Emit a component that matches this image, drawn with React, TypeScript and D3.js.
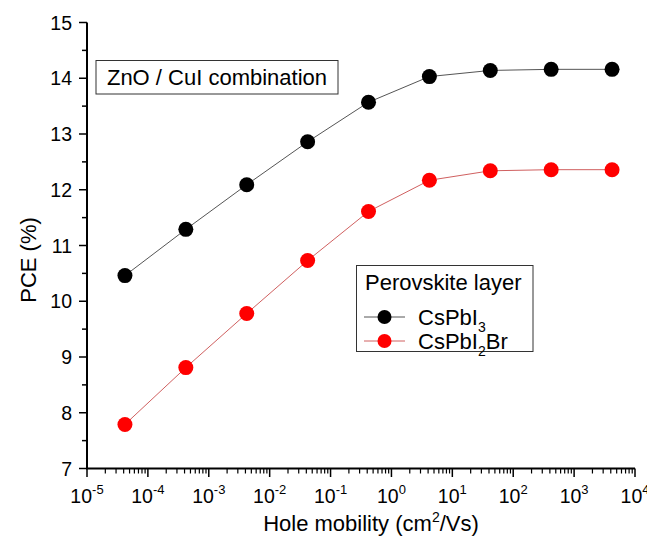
import React from "react";
import * as d3 from "d3";

const mobility = [4.2e-5, 4.2e-4, 4.2e-3, 4.2e-2, 4.2e-1, 4.2, 42, 420, 4200];
const pceCsPbI3 = [10.46, 11.29, 12.09, 12.86, 13.57, 14.03, 14.14, 14.16, 14.16];
const pceCsPbI2Br = [7.79, 8.81, 9.78, 10.73, 11.61, 12.17, 12.34, 12.36, 12.36];
const xExponents = [-5, -4, -3, -2, -1, 0, 1, 2, 3, 4];
const yTicks = [7, 8, 9, 10, 11, 12, 13, 14, 15];

const W = 647, H = 537;
const FONT = "'Liberation Sans', Arial, sans-serif";

export default function App() {
  const x = d3.scaleLog().domain([1e-5, 1e4]).range([87, 635]);
  const y = d3.scaleLinear().domain([7, 15]).range([468.5, 22.5]);
  const line = d3.line<number>().x((_, i) => x(mobility[i])).y((d) => y(d));

  const minorX: number[] = [];
  for (let e = -5; e < 4; e++) for (let k = 2; k <= 9; k++) minorX.push(k * Math.pow(10, e));
  const minorY = yTicks.slice(0, -1).map((v) => v + 0.5);

  const series = [
    { data: pceCsPbI3, fill: "#000000", stroke: "#555555", name: "CsPbI", sub: "3", tail: "" },
    { data: pceCsPbI2Br, fill: "#ff0000", stroke: "#d06060", name: "CsPbI", sub: "2", tail: "Br" },
  ];

  return (
    <svg width={W} height={H} style={{ position: "absolute", left: 0, top: 0 }} fontFamily={FONT}>
      <rect width={W} height={H} fill="#fff" />
      {/* axes */}
      <line x1={87} x2={87} y1={22.5} y2={469} stroke="#000" strokeWidth={2} />
      <line x1={86} x2={635} y1={468.5} y2={468.5} stroke="#000" strokeWidth={2} />
      {yTicks.map((t) => (
        <g key={"y" + t}>
          <line x1={79} x2={87} y1={y(t)} y2={y(t)} stroke="#000" strokeWidth={1.5} />
          <text x={72} y={y(t) + 7} textAnchor="end" fontSize={19.5}>{t}</text>
        </g>
      ))}
      {minorY.map((t) => (
        <line key={"my" + t} x1={82} x2={87} y1={y(t)} y2={y(t)} stroke="#000" strokeWidth={1.5} />
      ))}
      {xExponents.map((e) => {
        const xx = x(Math.pow(10, e));
        return (
          <g key={"x" + e}>
            <line x1={xx} x2={xx} y1={468.5} y2={477} stroke="#000" strokeWidth={1.5} />
            <text x={xx} y={503} textAnchor="middle" fontSize={19.5}>
              10<tspan dy={-9} fontSize={13}>{e}</tspan>
            </text>
          </g>
        );
      })}
      {minorX.map((v, i) => (
        <line key={"mx" + i} x1={x(v)} x2={x(v)} y1={468.5} y2={473.5} stroke="#000" strokeWidth={1.2} />
      ))}
      {/* axis titles */}
      <text x={371} y={531} textAnchor="middle" fontSize={22}>
        Hole mobility (cm<tspan dy={-9} fontSize={14}>2</tspan><tspan dy={9}>/Vs)</tspan>
      </text>
      <text transform="translate(36,260) rotate(-90)" textAnchor="middle" fontSize={22}>PCE (%)</text>
      {/* series */}
      {series.map((s, si) => (
        <g key={"s" + si}>
          <path d={line(s.data) || ""} fill="none" stroke={s.stroke} strokeWidth={1} />
          {s.data.map((v, i) => (
            <circle key={i} cx={x(mobility[i])} cy={y(v)} r={7.5} fill={s.fill} />
          ))}
        </g>
      ))}
      {/* annotation box */}
      <rect x={96} y={60.5} width={242} height={33.5} fill="#fff" stroke="#333" strokeWidth={1} />
      <text x={217} y={85} textAnchor="middle" fontSize={22}>ZnO / CuI combination</text>
      {/* legend */}
      <rect x={356.5} y={265.5} width={176.5} height={86} fill="#fff" stroke="#333" strokeWidth={1} />
      <text x={365} y={290} fontSize={22}>Perovskite layer</text>
      {series.map((s, i) => {
        const ly = 317 + i * 24;
        return (
          <g key={"l" + i}>
            <line x1={364} x2={405} y1={ly} y2={ly} stroke={s.stroke} strokeWidth={1} />
            <circle cx={384.5} cy={ly} r={7} fill={s.fill} />
            <text x={418} y={ly + 8} fontSize={22}>
              {s.name}
              <tspan dy={7} fontSize={14}>{s.sub}</tspan>
              {s.tail ? <tspan dy={-7}>{s.tail}</tspan> : null}
            </text>
          </g>
        );
      })}
    </svg>
  );
}
